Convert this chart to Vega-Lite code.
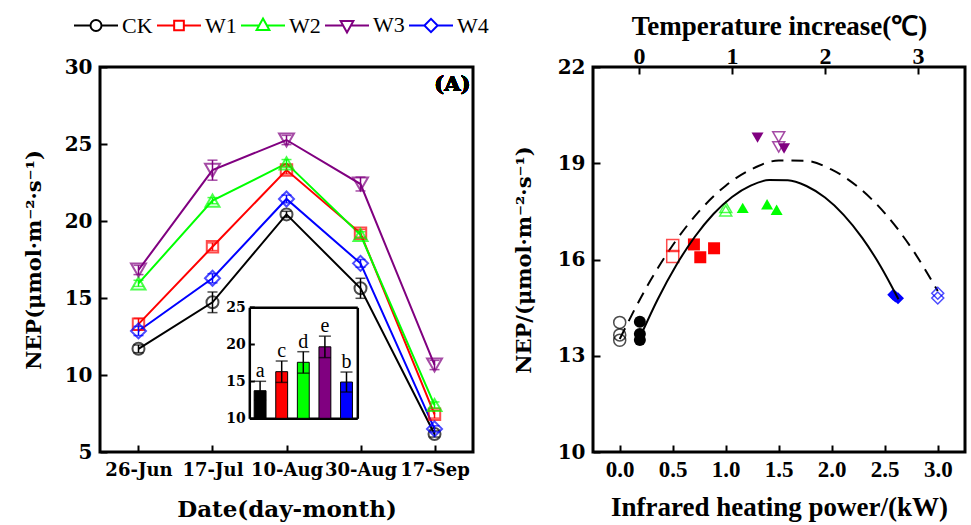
{
  "$schema": "https://vega.github.io/schema/vega-lite/v6.json",
  "background": "white",
  "padding": {"left": 21, "top": 0, "right": 0, "bottom": 0},
  "bounds": "flush",
  "spacing": 120,
  "config": {
    "font": "DejaVu Serif",
    "view": {"stroke": "black", "strokeWidth": 3},
    "axis": {"domain": false, "grid": false, "tickColor": "black", "tickWidth": 2, "labelColor": "black", "titleColor": "black", "labelFontWeight": "bold", "titleFontWeight": "bold", "labelFont": "DejaVu Serif", "titleFont": "DejaVu Serif"}
  },
  "datasets": {
    "lines": [
      {"date": "26-Jun", "series": "CK", "value": 11.7, "err": 0.25},
      {"date": "17-Jul", "series": "CK", "value": 14.72, "err": 0.67},
      {"date": "10-Aug", "series": "CK", "value": 20.43, "err": 0.2},
      {"date": "30-Aug", "series": "CK", "value": 15.63, "err": 0.65},
      {"date": "17-Sep", "series": "CK", "value": 6.17, "err": 0.2},
      {"date": "26-Jun", "series": "W1", "value": 13.3, "err": 0.38},
      {"date": "17-Jul", "series": "W1", "value": 18.33, "err": 0.25},
      {"date": "10-Aug", "series": "W1", "value": 23.31, "err": 0.25},
      {"date": "30-Aug", "series": "W1", "value": 19.2, "err": 0.25},
      {"date": "17-Sep", "series": "W1", "value": 7.45, "err": 0.25},
      {"date": "26-Jun", "series": "W2", "value": 15.95, "err": 0.2},
      {"date": "17-Jul", "series": "W2", "value": 21.32, "err": 0.2},
      {"date": "10-Aug", "series": "W2", "value": 23.74, "err": 0.25},
      {"date": "30-Aug", "series": "W2", "value": 19.1, "err": 0.2},
      {"date": "17-Sep", "series": "W2", "value": 8.05, "err": 0.2},
      {"date": "26-Jun", "series": "W3", "value": 16.82, "err": 0.3},
      {"date": "17-Jul", "series": "W3", "value": 23.3, "err": 0.65},
      {"date": "10-Aug", "series": "W3", "value": 25.26, "err": 0.3},
      {"date": "30-Aug", "series": "W3", "value": 22.4, "err": 0.45},
      {"date": "17-Sep", "series": "W3", "value": 10.65, "err": 0.3},
      {"date": "26-Jun", "series": "W4", "value": 12.86, "err": 0.3},
      {"date": "17-Jul", "series": "W4", "value": 16.28, "err": 0.3},
      {"date": "10-Aug", "series": "W4", "value": 21.43, "err": 0.25},
      {"date": "30-Aug", "series": "W4", "value": 17.25, "err": 0.25},
      {"date": "17-Sep", "series": "W4", "value": 6.5, "err": 0.2}
    ],
    "inset": [
      {"series": "CK", "mean": 13.73, "lower": 12.45, "upper": 15.0, "letter": "a"},
      {"series": "W1", "mean": 16.3, "lower": 14.85, "upper": 17.74, "letter": "c"},
      {"series": "W2", "mean": 17.57, "lower": 16.1, "upper": 19.0, "letter": "d"},
      {"series": "W3", "mean": 19.66, "lower": 18.2, "upper": 21.1, "letter": "e"},
      {"series": "W4", "mean": 14.9, "lower": 13.55, "upper": 16.25, "letter": "b"}
    ],
    "points": [
      {"series": "CK", "power": 0, "nep": 14.04, "heated": false},
      {"series": "CK", "power": 0, "nep": 13.65, "heated": false},
      {"series": "CK", "power": 0, "nep": 13.48, "heated": false},
      {"series": "W1", "power": 0.5, "nep": 16.44, "heated": false},
      {"series": "W1", "power": 0.5, "nep": 16.09, "heated": false},
      {"series": "W2", "power": 1.0, "nep": 17.63, "heated": false},
      {"series": "W2", "power": 1.0, "nep": 17.52, "heated": false},
      {"series": "W3", "power": 1.5, "nep": 19.82, "heated": false},
      {"series": "W3", "power": 1.5, "nep": 19.51, "heated": false},
      {"series": "W4", "power": 3.0, "nep": 14.95, "heated": false},
      {"series": "W4", "power": 3.0, "nep": 14.8, "heated": false},
      {"series": "CK", "power": 0.19, "nep": 14.06, "heated": true},
      {"series": "CK", "power": 0.19, "nep": 13.68, "heated": true},
      {"series": "CK", "power": 0.19, "nep": 13.49, "heated": true},
      {"series": "W1", "power": 0.7, "nep": 16.47, "heated": true},
      {"series": "W1", "power": 0.76, "nep": 16.07, "heated": true},
      {"series": "W1", "power": 0.89, "nep": 16.35, "heated": true},
      {"series": "W2", "power": 1.16, "nep": 17.61, "heated": true},
      {"series": "W2", "power": 1.39, "nep": 17.72, "heated": true},
      {"series": "W2", "power": 1.48, "nep": 17.55, "heated": true},
      {"series": "W3", "power": 1.3, "nep": 19.8, "heated": true},
      {"series": "W3", "power": 1.55, "nep": 19.46, "heated": true},
      {"series": "W4", "power": 2.58, "nep": 14.9, "heated": true},
      {"series": "W4", "power": 2.6, "nep": 14.85, "heated": true},
      {"series": "W4", "power": 2.625, "nep": 14.79, "heated": true}
    ],
    "dashfit": [
      {"power": 0, "nep": 13.52}, {"power": 0.25, "nep": 15.116}, {"power": 0.5, "nep": 16.445},
      {"power": 0.75, "nep": 17.506}, {"power": 1.0, "nep": 18.3}, {"power": 1.25, "nep": 18.826},
      {"power": 1.5, "nep": 19.085}, {"power": 1.75, "nep": 19.076}, {"power": 2.0, "nep": 18.8},
      {"power": 2.25, "nep": 18.256}, {"power": 2.5, "nep": 17.445}, {"power": 2.75, "nep": 16.366},
      {"power": 3.0, "nep": 15.02}
    ],
    "solidfit": [
      {"temp": 0.04, "nep": 13.77}, {"temp": 0.2, "nep": 14.755}, {"temp": 0.4, "nep": 15.821},
      {"temp": 0.6, "nep": 16.709}, {"temp": 0.8, "nep": 17.419}, {"temp": 1.0, "nep": 17.95},
      {"temp": 1.2, "nep": 18.303}, {"temp": 1.4, "nep": 18.477}, {"temp": 1.6, "nep": 18.473},
      {"temp": 1.8, "nep": 18.291}, {"temp": 2.0, "nep": 17.93}, {"temp": 2.2, "nep": 17.391},
      {"temp": 2.4, "nep": 16.673}, {"temp": 2.6, "nep": 15.777}, {"temp": 2.79, "nep": 14.76}
    ]
  },
  "resolve": {"scale": {"color": "independent", "shape": "independent", "size": "independent"}, "legend": {"color": "independent", "shape": "independent", "size": "independent"}},
  "hconcat": [
    {
      "width": 373,
      "height": 385,
      "layer": [
        {
          "data": {"name": "lines"},
          "encoding": {
            "x": {"field": "date", "type": "ordinal", "sort": ["26-Jun", "17-Jul", "10-Aug", "30-Aug", "17-Sep"], "scale": {"type": "point", "padding": 0.52},
              "axis": {"title": "Date(day-month)", "labelAngle": 0, "labelFontSize": 18, "titleFontSize": 23, "tickSize": -7, "labelPadding": 16, "titlePadding": 19}},
            "y": {"field": "value", "type": "quantitative", "title": "NEP(μmol·m⁻²·s⁻¹)", "scale": {"domain": [5, 30], "nice": false, "zero": false},
              "axis": {"values": [5, 10, 15, 20, 25, 30], "labelFontSize": 20, "titleFontSize": 21, "tickSize": -7, "labelPadding": 15, "titlePadding": 20}}
          },
          "layer": [
            {
              "mark": {"type": "line", "strokeWidth": 2},
              "encoding": {
                "color": {"field": "series", "type": "nominal", "scale": {"domain": ["CK", "W1", "W2", "W3", "W4"], "range": ["#000000", "#ff0000", "#00ff00", "#800080", "#0000ff"]},
                  "legend": {"orient": "none", "legendX": -27, "legendY": -65, "padding": 0, "direction": "horizontal", "title": null, "symbolSize": 1936, "symbolStrokeWidth": 2, "symbolFillColor": "white", "labelFont": "Liberation Serif", "labelFontSize": 22, "labelFontWeight": "normal", "labelColor": "black", "labelOffset": 3, "columnPadding": 0,
                    "encode": {"symbols": {"update": {"fill": {"value": "white"}, "shape": {"signal": "datum.value==='CK'?'M-1,0H-0.25M0.25,0A0.25,0.25,0,1,1,-0.25,0A0.25,0.25,0,1,1,0.25,0M0.25,0H1':datum.value==='W1'?'M-1,0H-0.22M-0.22,-0.22H0.22V0.22H-0.22ZM0.22,0H1':datum.value==='W2'?'M-1,0H-0.19M0,-0.32L0.29,0.2H-0.29ZM0.19,0H1':datum.value==='W3'?'M-1,0H-0.19M-0.29,-0.2H0.29L0,0.32ZM0.19,0H1':'M-1,0H-0.3M-0.3,0L0,-0.3L0.3,0L0,0.3ZM0.3,0H1'"}}}}}}
              }
            },
            {
              "transform": [{"filter": "datum.series==='CK'"}],
              "layer": [
                {"mark": {"type": "errorbar", "ticks": {"size": 10}, "thickness": 1.5, "color": "#000000"}, "encoding": {"y": {"field": "value", "type": "quantitative", "title": "NEP(μmol·m⁻²·s⁻¹)"}, "yError": {"field": "err"}}},
                {"mark": {"type": "point", "shape": "circle", "size": 144, "filled": false, "strokeWidth": 2, "color": "#000000"}}
              ]
            },
            {
              "transform": [{"filter": "datum.series==='W1'"}],
              "layer": [
                {"mark": {"type": "errorbar", "ticks": {"size": 10}, "thickness": 1.5, "color": "#ff0000"}, "encoding": {"y": {"field": "value", "type": "quantitative", "title": "NEP(μmol·m⁻²·s⁻¹)"}, "yError": {"field": "err"}}},
                {"mark": {"type": "point", "shape": "square", "size": 130, "filled": false, "strokeWidth": 2, "color": "#ff0000"}}
              ]
            },
            {
              "transform": [{"filter": "datum.series==='W2'"}],
              "layer": [
                {"mark": {"type": "errorbar", "ticks": {"size": 10}, "thickness": 1.5, "color": "#00ff00"}, "encoding": {"y": {"field": "value", "type": "quantitative", "title": "NEP(μmol·m⁻²·s⁻¹)"}, "yError": {"field": "err"}}},
                {"mark": {"type": "point", "shape": "triangle-up", "size": 196, "filled": false, "strokeWidth": 2, "color": "#00ff00"}}
              ]
            },
            {
              "transform": [{"filter": "datum.series==='W3'"}],
              "layer": [
                {"mark": {"type": "errorbar", "ticks": {"size": 10}, "thickness": 1.5, "color": "#800080"}, "encoding": {"y": {"field": "value", "type": "quantitative", "title": "NEP(μmol·m⁻²·s⁻¹)"}, "yError": {"field": "err"}}},
                {"mark": {"type": "point", "shape": "triangle-down", "size": 225, "filled": false, "strokeWidth": 2, "color": "#800080"}}
              ]
            },
            {
              "transform": [{"filter": "datum.series==='W4'"}],
              "layer": [
                {"mark": {"type": "errorbar", "ticks": {"size": 10}, "thickness": 1.5, "color": "#0000ff"}, "encoding": {"y": {"field": "value", "type": "quantitative", "title": "NEP(μmol·m⁻²·s⁻¹)"}, "yError": {"field": "err"}}},
                {"mark": {"type": "point", "shape": "diamond", "size": 225, "filled": false, "strokeWidth": 2, "color": "#0000ff"}}
              ]
            },
            {
              "mark": {"type": "text", "font": "DejaVu Serif", "fontWeight": "bold", "fontSize": 21, "align": "right", "baseline": "middle", "dx": 36, "color": "black"},
              "encoding": {"x": {"datum": "17-Sep"}, "y": {"datum": 28.83}, "text": {"value": "(A)"}}
            }
          ]
        },
        {
          "data": {"name": "inset"},
          "layer": [
            {
              "mark": {"type": "bar", "stroke": "black", "strokeWidth": 1},
              "encoding": {
                "x": {"field": "series", "type": "nominal", "scale": {"type": "band", "range": [149.3, 257.3], "paddingInner": 0.45, "paddingOuter": 0.225},
                  "axis": {"orient": "bottom", "offset": -33.7, "labels": false, "ticks": false, "title": null, "domain": true, "domainWidth": 2.5, "domainColor": "black"}},
                "y": {"field": "mean", "type": "quantitative", "scale": {"domain": [10, 25], "range": [351.3, 240.3], "nice": false, "zero": false},
                  "axis": {"orient": "right", "offset": -223.7, "values": [10, 15, 20, 25], "title": null, "domain": true, "domainWidth": 2.5, "domainColor": "black", "tickSize": 5, "labelAlign": "right", "labelFontSize": 14, "labelPadding": -9}},
                "y2": {"datum": 10},
                "fill": {"field": "series", "type": "nominal", "scale": {"domain": ["CK", "W1", "W2", "W3", "W4"], "range": ["#000000", "#ff0000", "#00ff00", "#800080", "#0000ff"]}, "legend": null}
              }
            },
            {
              "mark": {"type": "errorbar", "ticks": {"size": 12}, "color": "black", "thickness": 1.5},
              "encoding": {
                "x": {"field": "series", "type": "nominal", "axis": {"orient": "top", "offset": -240.3, "labels": false, "ticks": false, "title": null, "domain": true, "domainWidth": 2.5, "domainColor": "black"}},
                "y": {"field": "lower", "type": "quantitative", "axis": {"orient": "right", "offset": -115.7, "labels": false, "ticks": false, "title": null, "domain": true, "domainWidth": 2.5, "domainColor": "black"}},
                "y2": {"field": "upper"}
              }
            },
            {
              "mark": {"type": "text", "font": "Liberation Serif", "fontSize": 20, "baseline": "alphabetic", "dy": -4, "color": "black"},
              "encoding": {
                "x": {"field": "series", "type": "nominal", "axis": null},
                "y": {"field": "upper", "type": "quantitative", "axis": null},
                "text": {"field": "letter"}
              }
            }
          ],
          "resolve": {"axis": {"x": "independent", "y": "independent"}}
        }
      ],
      "resolve": {"scale": {"x": "independent", "y": "independent"}, "axis": {"x": "independent", "y": "independent"}}
    },
    {
      "width": 372,
      "height": 385,
      "layer": [
        {
          "layer": [
            {
              "data": {"name": "dashfit"},
              "mark": {"type": "line", "color": "black", "strokeWidth": 2, "strokeDash": [12, 8], "interpolate": "monotone"},
              "encoding": {
                "x": {"field": "power", "type": "quantitative", "scale": {"domain": [-0.252, 3.257], "nice": false, "zero": false},
                  "axis": {"orient": "bottom", "title": "Infrared heating power/(kW)", "values": [0, 0.5, 1, 1.5, 2, 2.5, 3], "format": ".1f", "labelFont": "Liberation Serif", "titleFont": "Liberation Serif", "labelFontSize": 23, "titleFontSize": 27, "tickSize": -7, "labelPadding": 13.5, "titlePadding": 13}},
                "y": {"field": "nep", "type": "quantitative", "title": "NEP/(μmol·m⁻²·s⁻¹)", "scale": {"domain": [10, 22], "nice": false, "zero": false},
                  "axis": {"values": [10, 13, 16, 19, 22], "labelFontSize": 20, "titleFontSize": 21, "tickSize": -7, "labelPadding": 15, "titlePadding": 23}}
              }
            },
            {
              "data": {"name": "points"},
              "transform": [{"filter": "!datum.heated"}],
              "mark": {"type": "point", "filled": false, "strokeWidth": 1.5},
              "encoding": {
                "x": {"field": "power", "type": "quantitative"},
                "y": {"field": "nep", "type": "quantitative", "title": "NEP/(μmol·m⁻²·s⁻¹)"},
                "color": {"field": "series", "type": "nominal", "scale": {"domain": ["CK", "W1", "W2", "W3", "W4"], "range": ["#000000", "#ff0000", "#00ff00", "#800080", "#0000ff"]}, "legend": null},
                "shape": {"field": "series", "type": "nominal", "scale": {"domain": ["CK", "W1", "W2", "W3", "W4"], "range": ["circle", "square", "triangle-up", "triangle-down", "diamond"]}, "legend": null},
                "size": {"field": "series", "type": "nominal", "scale": {"domain": ["CK", "W1", "W2", "W3", "W4"], "range": [144, 144, 210, 300, 256]}, "legend": null}
              }
            },
            {
              "data": {"name": "points"},
              "transform": [{"filter": "datum.heated"}],
              "mark": {"type": "point", "filled": true, "opacity": 1},
              "encoding": {
                "x": {"field": "power", "type": "quantitative"},
                "y": {"field": "nep", "type": "quantitative", "title": "NEP/(μmol·m⁻²·s⁻¹)"},
                "color": {"field": "series", "type": "nominal", "legend": null},
                "shape": {"field": "series", "type": "nominal", "legend": null},
                "size": {"field": "series", "type": "nominal", "legend": null}
              }
            },
            {
              "mark": {"type": "rule", "color": "black", "strokeWidth": 2, "strokeDash": [14, 8]},
              "encoding": {"x": {"datum": 0.434}, "x2": {"datum": 0.771}, "y": {"datum": 13.7}}
            },
            {
              "mark": {"type": "rule", "color": "black", "strokeWidth": 2},
              "encoding": {"x": {"datum": 0.409}, "x2": {"datum": 0.811}, "y": {"datum": 11.96}}
            },
            {
              "mark": {"type": "text", "font": "Liberation Serif", "fontSize": 18, "align": "left", "baseline": "middle", "color": "black"},
              "encoding": {"x": {"datum": 0.88}, "y": {"datum": 13.7}, "text": {"value": "y=-2.14x²+6.92x+13.52"}}
            },
            {
              "mark": {"type": "text", "font": "Liberation Serif", "fontSize": 18, "align": "left", "baseline": "middle", "color": "black"},
              "encoding": {"x": {"datum": 0.88}, "y": {"datum": 12.87}, "text": {"value": "R²=0.94"}}
            },
            {
              "mark": {"type": "text", "font": "Liberation Serif", "fontSize": 18, "align": "left", "baseline": "middle", "color": "black"},
              "encoding": {"x": {"datum": 0.843}, "y": {"datum": 11.96}, "text": {"value": "y=-2.23x²+6.67x+13.51"}}
            },
            {
              "mark": {"type": "text", "font": "Liberation Serif", "fontSize": 18, "align": "left", "baseline": "middle", "color": "black"},
              "encoding": {"x": {"datum": 0.865}, "y": {"datum": 11.125}, "text": {"value": "R²=0.84"}}
            },
            {
              "mark": {"type": "text", "font": "DejaVu Serif", "fontWeight": "bold", "fontSize": 20, "align": "right", "baseline": "middle", "color": "black"},
              "encoding": {"x": {"datum": 3.235}, "y": {"datum": 21.34}, "text": {"value": "(B)"}}
            }
          ]
        },
        {
          "data": {"name": "solidfit"},
          "mark": {"type": "line", "color": "black", "strokeWidth": 2, "interpolate": "monotone"},
          "encoding": {
            "x": {"field": "temp", "type": "quantitative", "scale": {"domain": [-0.495, 3.505], "nice": false, "zero": false},
              "axis": {"orient": "top", "title": "Temperature increase(℃)", "values": [0, 1, 2, 3], "format": "d", "labelFont": "Liberation Serif", "titleFont": "Liberation Serif", "labelFontSize": 24, "titleFontSize": 27, "tickSize": -7, "labelPadding": 6, "titlePadding": 4}},
            "y": {"field": "nep", "type": "quantitative", "title": "NEP/(μmol·m⁻²·s⁻¹)"}
          }
        }
      ],
      "resolve": {"scale": {"x": "independent"}, "axis": {"x": "independent"}}
    }
  ]
}
